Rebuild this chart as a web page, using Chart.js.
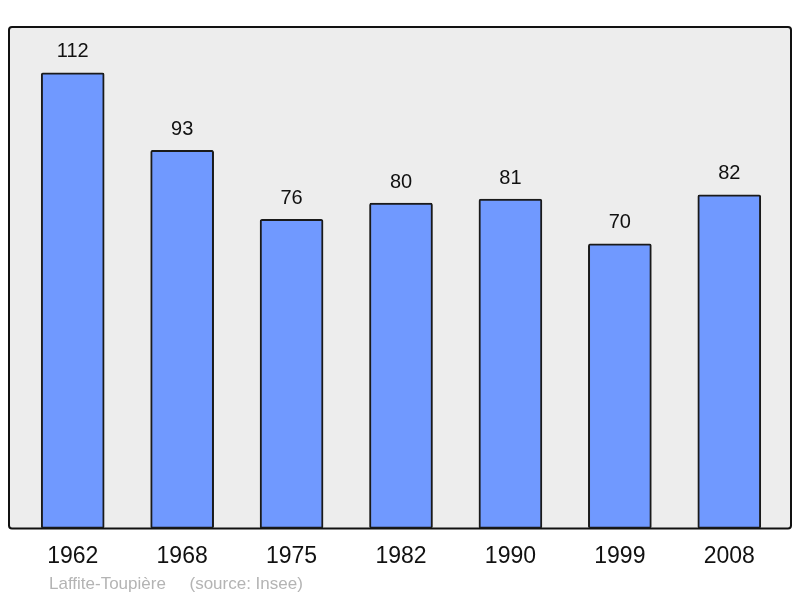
<!DOCTYPE html>
<html>
<head>
<meta charset="utf-8">
<script src="https://cdn.jsdelivr.net/npm/chart.js@4/dist/chart.umd.min.js"></script>
<style>
	body { margin: 0; background: #fff; }
	canvas { display: block; }
</style>
</head>
<body>
<canvas id="chart" width="800" height="598"></canvas>
<script>
const years = ["1962", "1968", "1975", "1982", "1990", "1999", "2008"];
const population = [112, 93, 76, 80, 81, 70, 82];
const footer = "Laffite-Toupière     (source: Insee)";

// fond gris + cadre autour de la zone du graphique
const framePlugin = {
	id: "frame",
	beforeDraw(chart) {
		const { ctx, chartArea } = chart;
		const x = chartArea.left - 9;
		const y = chartArea.top;
		const w = chartArea.right + 7 - x;
		const h = chartArea.bottom - y;
		ctx.save();
		ctx.beginPath();
		ctx.roundRect(x, y, w, h, 3);
		ctx.fillStyle = "#ededed";
		ctx.fill();
		ctx.lineWidth = 2;
		ctx.strokeStyle = "#111";
		ctx.stroke();
		ctx.restore();
	},
	afterDraw(chart) {
		const { ctx } = chart;
		ctx.save();
		ctx.font = "17px 'Liberation Sans', Arial, sans-serif";
		ctx.fillStyle = "#b4b4b4";
		ctx.textBaseline = "middle";
		ctx.fillText(footer, 49, 584);
		ctx.restore();
	},
};

// valeurs au-dessus des barres
const valuePlugin = {
	id: "values",
	afterDatasetsDraw(chart) {
		const { ctx } = chart;
		const meta = chart.getDatasetMeta(0);
		ctx.save();
		ctx.font = "20px 'Liberation Sans', Arial, sans-serif";
		ctx.fillStyle = "#111";
		ctx.textAlign = "center";
		ctx.textBaseline = "middle";
		meta.data.forEach((bar, i) => {
			ctx.fillText(population[i], bar.x, bar.y - 21);
		});
		ctx.restore();
	},
};

new Chart(document.getElementById("chart"), {
	type: "bar",
	data: {
		labels: years,
		datasets: [
			{
				data: population,
				backgroundColor: "#7099ff",
				borderColor: "#1a1a1a",
				borderWidth: 2,
				borderRadius: 2,
				borderSkipped: false,
				barThickness: 63,
			},
		],
	},
	options: {
		responsive: false,
		animation: false,
		devicePixelRatio: 1,
		layout: { padding: { left: 18, right: 16, top: 27, bottom: 14 } },
		plugins: { legend: { display: false }, tooltip: { enabled: false } },
		scales: {
			x: {
				grid: { display: false, drawTicks: false },
				border: { display: false },
				ticks: {
					color: "#111",
					padding: 14,
					font: { size: 23, family: "'Liberation Sans', Arial, sans-serif" },
				},
			},
			y: {
				display: false,
				min: 0,
				max: 123.3,
			},
		},
	},
	plugins: [framePlugin, valuePlugin],
});
</script>
</body>
</html>
